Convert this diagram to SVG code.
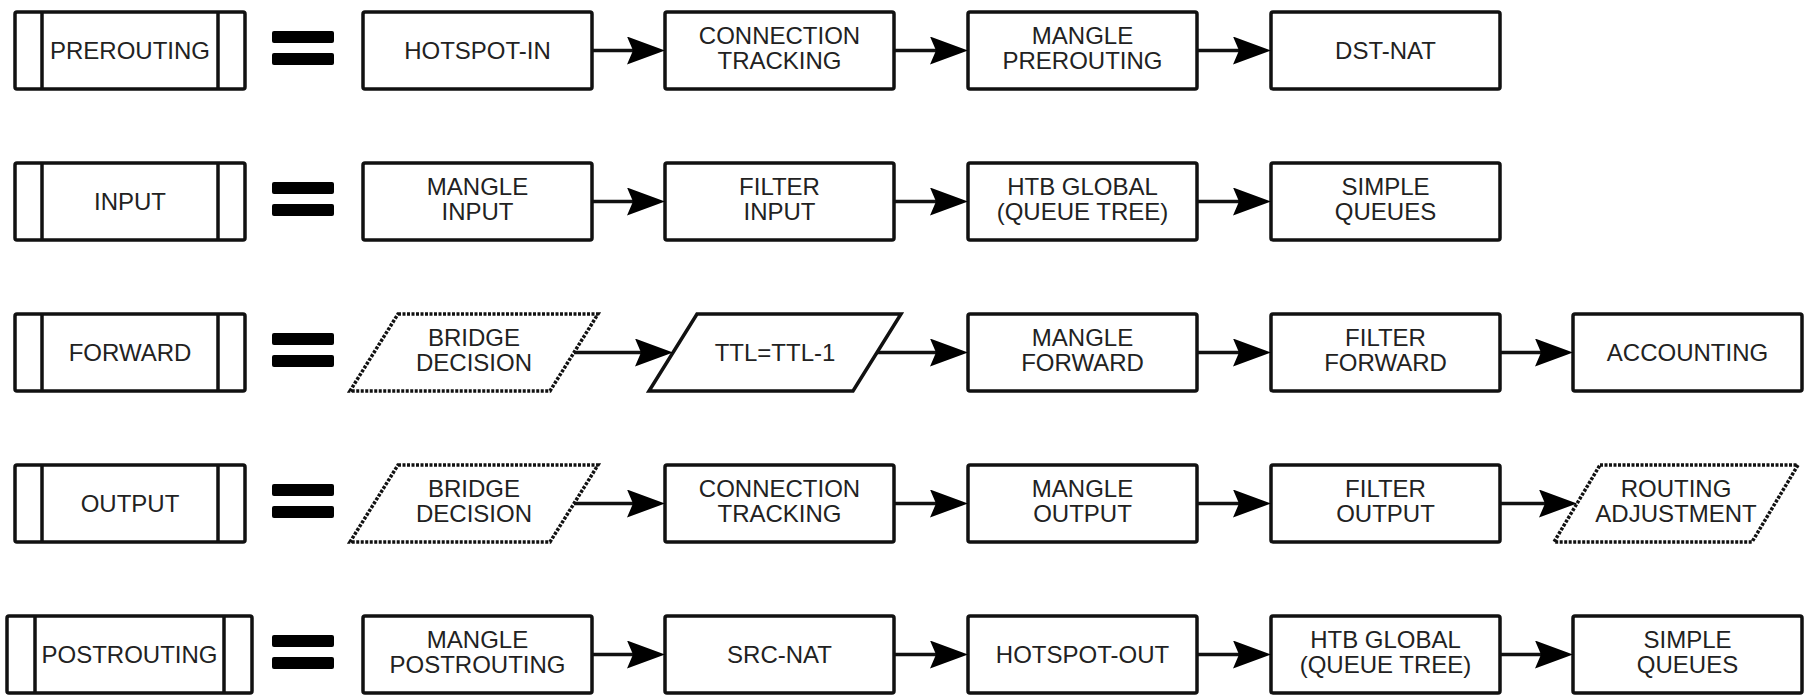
<svg xmlns="http://www.w3.org/2000/svg" width="1805" height="695" viewBox="0 0 1805 695">
<style>
.box{fill:#fff;stroke:#111;stroke-width:3.5}
.dot{fill:#fff;stroke:#111;stroke-width:3.5;stroke-dasharray:3 1.5}
.div{stroke:#111;stroke-width:3.5}
.eq{fill:#000}
.t{font-family:"Liberation Sans",Arial,sans-serif;font-size:24px;fill:#222;text-anchor:middle}
.c{stroke:#111;stroke-width:3.5;fill:none;marker-end:url(#ah)}
</style>
<defs>
<marker id="ah" markerUnits="userSpaceOnUse" markerWidth="40" markerHeight="30" refX="7" refY="14" orient="auto">
<path d="M0,0 L38,14 L0,28 L6,14 Z" fill="#000"/>
</marker>
</defs>
<rect width="1805" height="695" fill="#fff"/>

<!-- Row 1 -->
<g id="prerouting"><rect class="box" x="15" y="12" width="230" height="77" rx="2"/><line class="div" x1="42" y1="12" x2="42" y2="89"/><line class="div" x1="218" y1="12" x2="218" y2="89"/><text class="t" x="130" y="59">PREROUTING</text></g>
<g id="eq1"><rect class="eq" x="272" y="31" width="62" height="12" rx="2"/><rect class="eq" x="272" y="53" width="62" height="12" rx="2"/></g>
<g id="hotspot-in"><rect class="box" x="363" y="12" width="229" height="77" rx="2"/><text class="t" x="477.5" y="59">HOTSPOT-IN</text></g>
<g id="conntrack1"><rect class="box" x="665" y="12" width="229" height="77" rx="2"/><text class="t" x="779.5" y="44">CONNECTION</text><text class="t" x="779.5" y="69">TRACKING</text></g>
<g id="mangle-pre"><rect class="box" x="968" y="12" width="229" height="77" rx="2"/><text class="t" x="1082.5" y="44">MANGLE</text><text class="t" x="1082.5" y="69">PREROUTING</text></g>
<g id="dst-nat"><rect class="box" x="1271" y="12" width="229" height="77" rx="2"/><text class="t" x="1385.5" y="59">DST-NAT</text></g>

<!-- Row 2 -->
<g id="input"><rect class="box" x="15" y="163" width="230" height="77" rx="2"/><line class="div" x1="42" y1="163" x2="42" y2="240"/><line class="div" x1="218" y1="163" x2="218" y2="240"/><text class="t" x="130" y="210">INPUT</text></g>
<g id="eq2"><rect class="eq" x="272" y="182" width="62" height="12" rx="2"/><rect class="eq" x="272" y="204" width="62" height="12" rx="2"/></g>
<g id="mangle-input"><rect class="box" x="363" y="163" width="229" height="77" rx="2"/><text class="t" x="477.5" y="195">MANGLE</text><text class="t" x="477.5" y="220">INPUT</text></g>
<g id="filter-input"><rect class="box" x="665" y="163" width="229" height="77" rx="2"/><text class="t" x="779.5" y="195">FILTER</text><text class="t" x="779.5" y="220">INPUT</text></g>
<g id="htb1"><rect class="box" x="968" y="163" width="229" height="77" rx="2"/><text class="t" x="1082.5" y="195">HTB GLOBAL</text><text class="t" x="1082.5" y="220">(QUEUE TREE)</text></g>
<g id="simple1"><rect class="box" x="1271" y="163" width="229" height="77" rx="2"/><text class="t" x="1385.5" y="195">SIMPLE</text><text class="t" x="1385.5" y="220">QUEUES</text></g>

<!-- Row 3 -->
<g id="forward"><rect class="box" x="15" y="314" width="230" height="77" rx="2"/><line class="div" x1="42" y1="314" x2="42" y2="391"/><line class="div" x1="218" y1="314" x2="218" y2="391"/><text class="t" x="130" y="361">FORWARD</text></g>
<g id="eq3"><rect class="eq" x="272" y="333" width="62" height="12" rx="2"/><rect class="eq" x="272" y="355" width="62" height="12" rx="2"/></g>
<g id="bridge1"><polygon class="dot" points="398,314 598,314 550,391 350,391"/><text class="t" x="474" y="346">BRIDGE</text><text class="t" x="474" y="371">DECISION</text></g>
<g id="ttl"><polygon class="box" points="697,314 901,314 853,391 649,391"/><text class="t" x="775" y="361">TTL=TTL-1</text></g>
<g id="mangle-fwd"><rect class="box" x="968" y="314" width="229" height="77" rx="2"/><text class="t" x="1082.5" y="346">MANGLE</text><text class="t" x="1082.5" y="371">FORWARD</text></g>
<g id="filter-fwd"><rect class="box" x="1271" y="314" width="229" height="77" rx="2"/><text class="t" x="1385.5" y="346">FILTER</text><text class="t" x="1385.5" y="371">FORWARD</text></g>
<g id="accounting"><rect class="box" x="1573" y="314" width="229" height="77" rx="2"/><text class="t" x="1687.5" y="361">ACCOUNTING</text></g>

<!-- Row 4 -->
<g id="output"><rect class="box" x="15" y="465" width="230" height="77" rx="2"/><line class="div" x1="42" y1="465" x2="42" y2="542"/><line class="div" x1="218" y1="465" x2="218" y2="542"/><text class="t" x="130" y="512">OUTPUT</text></g>
<g id="eq4"><rect class="eq" x="272" y="484" width="62" height="12" rx="2"/><rect class="eq" x="272" y="506" width="62" height="12" rx="2"/></g>
<g id="bridge2"><polygon class="dot" points="398,465 598,465 550,542 350,542"/><text class="t" x="474" y="497">BRIDGE</text><text class="t" x="474" y="522">DECISION</text></g>
<g id="conntrack2"><rect class="box" x="665" y="465" width="229" height="77" rx="2"/><text class="t" x="779.5" y="497">CONNECTION</text><text class="t" x="779.5" y="522">TRACKING</text></g>
<g id="mangle-out"><rect class="box" x="968" y="465" width="229" height="77" rx="2"/><text class="t" x="1082.5" y="497">MANGLE</text><text class="t" x="1082.5" y="522">OUTPUT</text></g>
<g id="filter-out"><rect class="box" x="1271" y="465" width="229" height="77" rx="2"/><text class="t" x="1385.5" y="497">FILTER</text><text class="t" x="1385.5" y="522">OUTPUT</text></g>
<g id="routing-adj"><polygon class="dot" points="1600,465 1798,465 1752,542 1554,542"/><text class="t" x="1676" y="497">ROUTING</text><text class="t" x="1676" y="522">ADJUSTMENT</text></g>

<!-- Row 5 -->
<g id="postrouting"><rect class="box" x="7" y="616" width="245" height="77" rx="2"/><line class="div" x1="35" y1="616" x2="35" y2="693"/><line class="div" x1="224" y1="616" x2="224" y2="693"/><text class="t" x="129.5" y="663">POSTROUTING</text></g>
<g id="eq5"><rect class="eq" x="272" y="635" width="62" height="12" rx="2"/><rect class="eq" x="272" y="657" width="62" height="12" rx="2"/></g>
<g id="mangle-post"><rect class="box" x="363" y="616" width="229" height="77" rx="2"/><text class="t" x="477.5" y="648">MANGLE</text><text class="t" x="477.5" y="673">POSTROUTING</text></g>
<g id="src-nat"><rect class="box" x="665" y="616" width="229" height="77" rx="2"/><text class="t" x="779.5" y="663">SRC-NAT</text></g>
<g id="hotspot-out"><rect class="box" x="968" y="616" width="229" height="77" rx="2"/><text class="t" x="1082.5" y="663">HOTSPOT-OUT</text></g>
<g id="htb2"><rect class="box" x="1271" y="616" width="229" height="77" rx="2"/><text class="t" x="1385.5" y="648">HTB GLOBAL</text><text class="t" x="1385.5" y="673">(QUEUE TREE)</text></g>
<g id="simple2"><rect class="box" x="1573" y="616" width="229" height="77" rx="2"/><text class="t" x="1687.5" y="648">SIMPLE</text><text class="t" x="1687.5" y="673">QUEUES</text></g>

<g id="connectors">
<line class="c" x1="592" y1="50.5" x2="634" y2="50.5"/>
<line class="c" x1="894" y1="50.5" x2="937" y2="50.5"/>
<line class="c" x1="1197" y1="50.5" x2="1240" y2="50.5"/>

<line class="c" x1="592" y1="201.5" x2="634" y2="201.5"/>
<line class="c" x1="894" y1="201.5" x2="937" y2="201.5"/>
<line class="c" x1="1197" y1="201.5" x2="1240" y2="201.5"/>

<line class="c" x1="574" y1="352.5" x2="642" y2="352.5"/>
<line class="c" x1="877" y1="352.5" x2="937" y2="352.5"/>
<line class="c" x1="1197" y1="352.5" x2="1240" y2="352.5"/>
<line class="c" x1="1500" y1="352.5" x2="1542" y2="352.5"/>

<line class="c" x1="574" y1="503.5" x2="634" y2="503.5"/>
<line class="c" x1="894" y1="503.5" x2="937" y2="503.5"/>
<line class="c" x1="1197" y1="503.5" x2="1240" y2="503.5"/>
<line class="c" x1="1500" y1="503.5" x2="1546" y2="503.5"/>

<line class="c" x1="592" y1="654.5" x2="634" y2="654.5"/>
<line class="c" x1="894" y1="654.5" x2="937" y2="654.5"/>
<line class="c" x1="1197" y1="654.5" x2="1240" y2="654.5"/>
<line class="c" x1="1500" y1="654.5" x2="1542" y2="654.5"/>
</g>
</svg>
